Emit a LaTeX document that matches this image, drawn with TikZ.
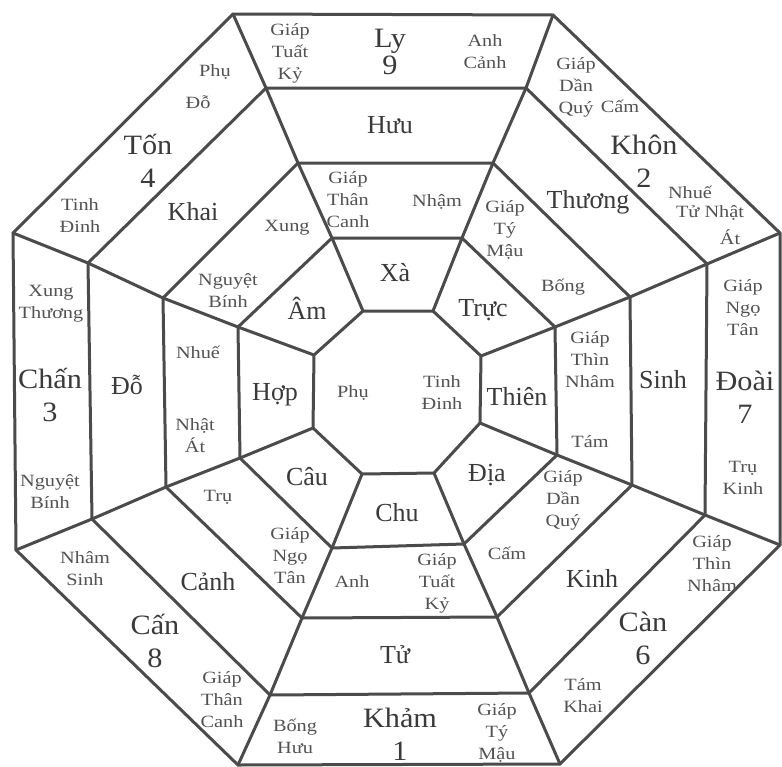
\documentclass[tikz,border=0pt]{standalone}
\usepackage{fontspec}
\setmainfont{Liberation Serif}
\newfontfamily\widefont{Liberation Serif}[FakeStretch=1.18]
\newfontfamily\midfont{Liberation Serif}[FakeStretch=1.08]
\definecolor{lncol}{RGB}{75,75,75}
\definecolor{bigcol}{RGB}{58,58,58}
\definecolor{smallcol}{RGB}{82,82,82}
\tikzset{
  gridline/.style={draw=lncol, line width=3pt, line join=round, line cap=round},
  trig/.style={inner sep=0pt, align=center, text=bigcol, font=\midfont\fontsize{28}{33}\selectfont},
  ringlab/.style={inner sep=0pt, align=center, text=bigcol, font=\fontsize{26}{28}\selectfont},
  smalllab/.style={inner sep=0pt, align=center, text=smallcol, font=\widefont\fontsize{17.2}{22}\selectfont},
}
\begin{document}
\begin{tikzpicture}[x=1pt,y=-1pt]
\useasboundingbox[fill=white] (0,0) rectangle (782,766);
% outer octagon
\coordinate (O1) at (233,14);  \coordinate (O2) at (553,15);
\coordinate (O3) at (780,233); \coordinate (O4) at (780,545);
\coordinate (O5) at (560,764); \coordinate (O6) at (238,765);
\coordinate (O7) at (16,550);  \coordinate (O8) at (13,233);
% ring 2
\coordinate (A1) at (266,88);  \coordinate (A2) at (526,88);
\coordinate (A3) at (707,264); \coordinate (A4) at (705,515);
\coordinate (A5) at (529,693); \coordinate (A6) at (270,695);
\coordinate (A7) at (92,519);  \coordinate (A8) at (88,263);
% ring 3
\coordinate (B1) at (298,163); \coordinate (B2) at (493,163);
\coordinate (B3) at (630,297); \coordinate (B4) at (632,485);
\coordinate (B5) at (497,617); \coordinate (B6) at (302,618);
\coordinate (B7) at (166,487); \coordinate (B8) at (163,298);
% ring 4
\coordinate (C1) at (332,238); \coordinate (C2) at (462,238);
\coordinate (C3) at (555,327); \coordinate (C4) at (557,455);
\coordinate (C5) at (464,544); \coordinate (C6) at (332,548);
\coordinate (C7) at (240,458); \coordinate (C8) at (238,327);
% inner
\coordinate (D1) at (363,311); \coordinate (D2) at (433,311);
\coordinate (D3) at (481,356); \coordinate (D4) at (480,423);
\coordinate (D5) at (434,473); \coordinate (D6) at (362,474);
\coordinate (D7) at (313,428); \coordinate (D8) at (314,355);

\foreach \r in {O,A,B,C,D}{
  \draw[gridline] (\r1) -- (\r2) -- (\r3) -- (\r4) -- (\r5) -- (\r6) -- (\r7) -- (\r8) -- cycle;
}
\foreach \i in {1,...,8}{
  \draw[gridline] (O\i) -- (A\i) -- (B\i) -- (C\i) -- (D\i);
}

% ---------- outer ring ----------
\node[smalllab] (gtk1) at (290,53) {Giáp\\Tuất\\Kỷ};
\node[trig, font=\midfont\fontsize{28}{27}\selectfont] (ly) at (390,52) {Ly\\9};
\node[smalllab] (ac) at (485,52) {Anh\\Cảnh};
\node[smalllab] (gdq1) at (576,87) {Giáp\\Dần\\Quý};
\node[smalllab] (cam1) at (620,106) {Cấm};
\node[trig] (khon) at (644,161) {Khôn\\2};
\node[smalllab] (nhue1) at (690,192) {Nhuế};
\node[smalllab] (tunhat) at (710,213) {Tử Nhật};
\node[smalllab] (at1) at (730,237) {Át};
\node[smalllab] (gnt1) at (743,308) {Giáp\\Ngọ\\Tân};
\node[trig] (doai) at (745,397) {Đoài\\7};
\node[smalllab] (tk) at (743,478) {Trụ\\Kinh};
\node[smalllab] (gtn1) at (712,564) {Giáp\\Thìn\\Nhâm};
\node[trig] (can6) at (643,638) {Càn\\6};
\node[smalllab] (tamkhai) at (583,696) {Tám\\Khai};
\node[smalllab] (gtm1) at (497,733) {Giáp\\Tý\\Mậu};
\node[trig] (kham) at (400,734) {Khảm\\1};
\node[smalllab] (bh) at (295,736) {Bống\\Hưu};
\node[smalllab] (gtc1) at (222,700) {Giáp\\Thân\\Canh};
\node[trig] (can8) at (155,641) {Cấn\\8};
\node[smalllab] (ns) at (85,569) {Nhâm\\Sinh};
\node[smalllab] (nb1) at (50,492) {Nguyệt\\Bính};
\node[trig] (chan) at (50,395) {Chấn\\3};
\node[smalllab] (xt) at (51,304) {Xung\\Thương};
\node[smalllab] (td1) at (80,216) {Tinh\\Đinh};
\node[trig] (ton) at (148,161) {Tốn\\4};
\node[smalllab] (phu1) at (215,72) {Phụ};
\node[smalllab] (do1) at (198,102) {Đỗ};

% ---------- ring 2 ----------
\node[ringlab] (huu) at (390,125) {Hưu};
\node[ringlab] (thuong) at (588,202) {Thương};
\node[ringlab] (sinh) at (663,380) {Sinh};
\node[ringlab] (kinh) at (592,578) {Kinh};
\node[ringlab] (tu) at (395,655) {Tử};
\node[ringlab] (canh) at (208,582) {Cảnh};
\node[ringlab] (do2) at (127,385) {Đỗ};
\node[ringlab] (khai) at (193,212) {Khai};

% ---------- ring 3 ----------
\node[smalllab] (gtc2) at (348,200) {Giáp\\Thân\\Canh};
\node[smalllab] (nham) at (437,202) {Nhậm};
\node[smalllab] (gtm2) at (505,230) {Giáp\\Tý\\Mậu};
\node[smalllab] (bong) at (563,287) {Bống};
\node[smalllab] (gtn2) at (590,360) {Giáp\\Thìn\\Nhâm};
\node[smalllab] (tam) at (590,442) {Tám};
\node[smalllab] (gdq2) at (563,500) {Giáp\\Dần\\Quý};
\node[smalllab] (cam2) at (507,553) {Cấm};
\node[smalllab] (gtk2) at (437,583) {Giáp\\Tuất\\Kỷ};
\node[smalllab] (anh) at (352,582) {Anh};
\node[smalllab] (gnt2) at (290,556) {Giáp\\Ngọ\\Tân};
\node[smalllab] (tru) at (218,497) {Trụ};
\node[smalllab] (nat) at (195,436) {Nhật\\Át};
\node[smalllab] (nhue2) at (198,352) {Nhuế};
\node[smalllab] (nb2) at (228,291) {Nguyệt\\Bính};
\node[smalllab] (xung) at (287,228) {Xung};

% ---------- ring 4 ----------
\node[ringlab] (xa) at (395,273) {Xà};
\node[ringlab] (truc) at (483,310) {Trực};
\node[ringlab] (thien) at (517,397) {Thiên};
\node[ringlab] (dia) at (487,475) {Địa};
\node[ringlab] (chu) at (397,513) {Chu};
\node[ringlab] (cau) at (307,477) {Câu};
\node[ringlab] (hop) at (275,395) {Hợp};
\node[ringlab] (am) at (307,308) {Âm};

% ---------- centre ----------
\node[smalllab] (phu2) at (353,393) {Phụ};
\node[smalllab] (td2) at (442,393) {Tinh\\Đinh};
\end{tikzpicture}
\end{document}
